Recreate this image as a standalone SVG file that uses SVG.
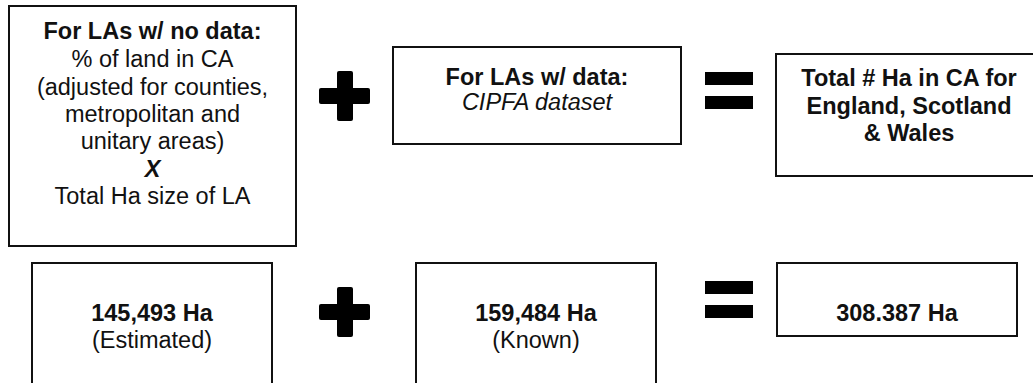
<svg xmlns="http://www.w3.org/2000/svg" width="1033" height="383" viewBox="0 0 1033 383">
  <style>
    .box { fill: #ffffff; stroke: #111111; stroke-width: 2; }
    .sym { fill: #000000; }
    text { font-family: "Liberation Sans", Arial, Helvetica, sans-serif; font-size: 23.5px; fill: #111111; text-anchor: middle; }
    .b { font-weight: bold; }
    .i { font-style: italic; }
  </style>
  <defs>
    <g id="plus">
      <rect class="sym" x="0" y="17" width="51" height="16" rx="2"/>
      <rect class="sym" x="18" y="0" width="16" height="50" rx="2"/>
    </g>
    <g id="equals">
      <rect class="sym" x="0" y="0" width="48" height="13"/>
      <rect class="sym" x="0" y="24" width="48" height="13"/>
    </g>
  </defs>

  <!-- Row 1: method -->
  <g id="no-data">
    <rect class="box" x="9" y="6" width="287" height="240"/>
    <text x="152.5" y="39" class="b">For LAs w/ no data:</text>
    <text x="152.5" y="67">% of land in CA</text>
    <text x="152.5" y="95">(adjusted for counties,</text>
    <text x="152.5" y="122">metropolitan and</text>
    <text x="152.5" y="149">unitary areas)</text>
    <text x="152.5" y="177" class="b i">X</text>
    <text x="152.5" y="204">Total Ha size of LA</text>
  </g>
  <g id="plus-1"><use href="#plus" x="319" y="71"/></g>
  <g id="with-data">
    <rect class="box" x="393" y="47" width="288" height="97"/>
    <text x="537" y="85" class="b">For LAs w/ data:</text>
    <text x="537" y="110" class="i">CIPFA dataset</text>
  </g>
  <g id="equals-1"><use href="#equals" x="705" y="72"/></g>
  <g id="total">
    <rect class="box" x="776" y="54" width="270" height="122"/>
    <text x="909" y="86" class="b">Total # Ha in CA for</text>
    <text x="909" y="113.5" class="b">England, Scotland</text>
    <text x="909" y="141" class="b">&amp; Wales</text>
  </g>

  <!-- Row 2: figures -->
  <g id="estimated">
    <rect class="box" x="32" y="263" width="240" height="130"/>
    <text x="152" y="320.5" class="b">145,493 Ha</text>
    <text x="152" y="348">(Estimated)</text>
  </g>
  <g id="plus-2"><use href="#plus" x="319" y="287"/></g>
  <g id="known">
    <rect class="box" x="416" y="263" width="240" height="130"/>
    <text x="536" y="320.5" class="b">159,484 Ha</text>
    <text x="536" y="348">(Known)</text>
  </g>
  <g id="equals-2"><use href="#equals" x="705" y="281"/></g>
  <g id="sum">
    <rect class="box" x="777" y="263" width="240" height="73"/>
    <text x="897" y="320.5" class="b">308.387 Ha</text>
  </g>

  <g id="connectors"></g>
</svg>
